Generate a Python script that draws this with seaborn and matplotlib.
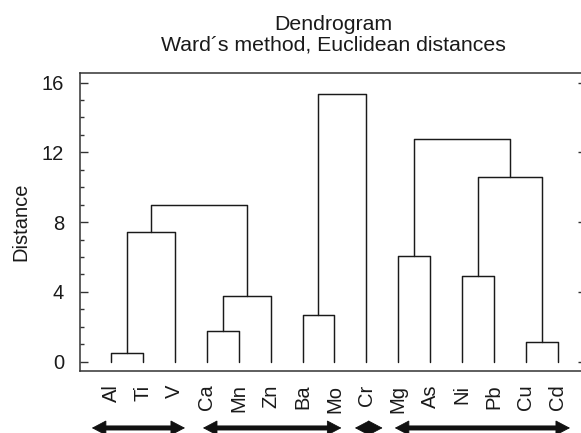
import pandas as pd
import matplotlib
matplotlib.use('Agg')
import matplotlib.pyplot as plt
from matplotlib.ticker import MultipleLocator
import seaborn as sns

# 叶子（元素）顺序
leaves = ['Al', 'Ti', 'V', 'Ca', 'Mn', 'Zn', 'Ba', 'Mo', 'Cr', 'Mg', 'As', 'Ni', 'Pb', 'Cu', 'Cd']
# 合并步骤：簇编号 0-14 为叶子，之后每次合并生成 15, 16, ...
merge_a = [0, 15, 3, 17, 16, 6, 20, 9, 11, 13, 23, 22]
merge_b = [1, 2, 4, 5, 18, 7, 8, 10, 12, 14, 24, 25]
merge_h = [0.5, 7.45, 1.78, 3.75, 9.0, 2.68, 15.37, 6.06, 4.93, 1.11, 10.61, 12.77]
# 下方双向箭头（分组）
arrow_start = [-0.6, 2.88, 7.64, 8.89]
arrow_end = [2.32, 7.22, 8.51, 14.38]

# 计算每个簇的位置和高度
pos = {i: float(i) for i in range(len(leaves))}
hgt = {i: 0.0 for i in range(len(leaves))}
rows = []
for k, (a, b, h) in enumerate(zip(merge_a, merge_b, merge_h)):
    new = len(leaves) + k
    for x, y in [(pos[a], hgt[a]), (pos[a], h), (pos[b], h), (pos[b], hgt[b])]:
        rows.append({'link': k, 'x': x, 'y': y})
    pos[new] = (pos[a] + pos[b]) / 2
    hgt[new] = h
df = pd.DataFrame(rows)

sns.set_style('ticks')
plt.rcParams['font.family'] = ['Liberation Sans', 'DejaVu Sans']

fig = plt.figure(figsize=(5.81, 4.33), dpi=100)
ax = fig.add_axes([80 / 581, 1 - 370.7 / 433, 506 / 581, 298.2 / 433])

sns.lineplot(data=df, x='x', y='y', units='link', estimator=None, sort=False,
             color='#1a1a1a', linewidth=1.05, ax=ax, legend=False)

ax.set_xlim(-0.97, 14.88)
ax.set_ylim(-0.52, 16.58)
ax.set_xticks(range(len(leaves)))
ax.set_xticklabels(leaves, rotation=90, fontsize=14.5, color='#1a1a1a')
ax.set_yticks([0, 4, 8, 12, 16])
ax.yaxis.set_minor_locator(MultipleLocator(1))
ax.tick_params(axis='x', length=0, pad=10)
ax.tick_params(axis='y', which='major', direction='in', left=True, right=True,
               length=6, width=1, labelsize=14.5, pad=11.5, color='#333333',
               labelcolor='#1a1a1a')
ax.tick_params(axis='y', which='minor', direction='in', left=True, right=False,
               length=3, width=1, color='#333333')
for s in ax.spines.values():
    s.set_visible(True)
    s.set_linewidth(1.1)
    s.set_color('#333333')

ax.set_xlabel('')
ax.set_ylabel('Distance', fontsize=14.5, labelpad=8, color='#1a1a1a')
ax.set_title('Dendrogram\nWard\u00b4s method, Euclidean distances', fontsize=15.3,
             pad=16, linespacing=1.08, color='#1a1a1a')

# 分组箭头：粗线 + 两端三角箭头
trans = ax.get_xaxis_transform()
for s0, s1 in zip(arrow_start, arrow_end):
    ax.annotate('', xy=(s1 - 0.25, -0.192), xytext=(s0 + 0.25, -0.192),
                xycoords=trans, textcoords=trans, annotation_clip=False,
                arrowprops=dict(arrowstyle='-', lw=3.6, color='#111111',
                                shrinkA=0, shrinkB=0, capstyle='butt'))
    ax.annotate('', xy=(s1, -0.192), xytext=(s0, -0.192),
                xycoords=trans, textcoords=trans, annotation_clip=False,
                arrowprops=dict(arrowstyle='<|-|>,head_length=0.95,head_width=0.5',
                                lw=0.6, color='#111111', mutation_scale=10,
                                shrinkA=0, shrinkB=0, joinstyle='miter'))

fig.savefig('out.png', dpi=100)
